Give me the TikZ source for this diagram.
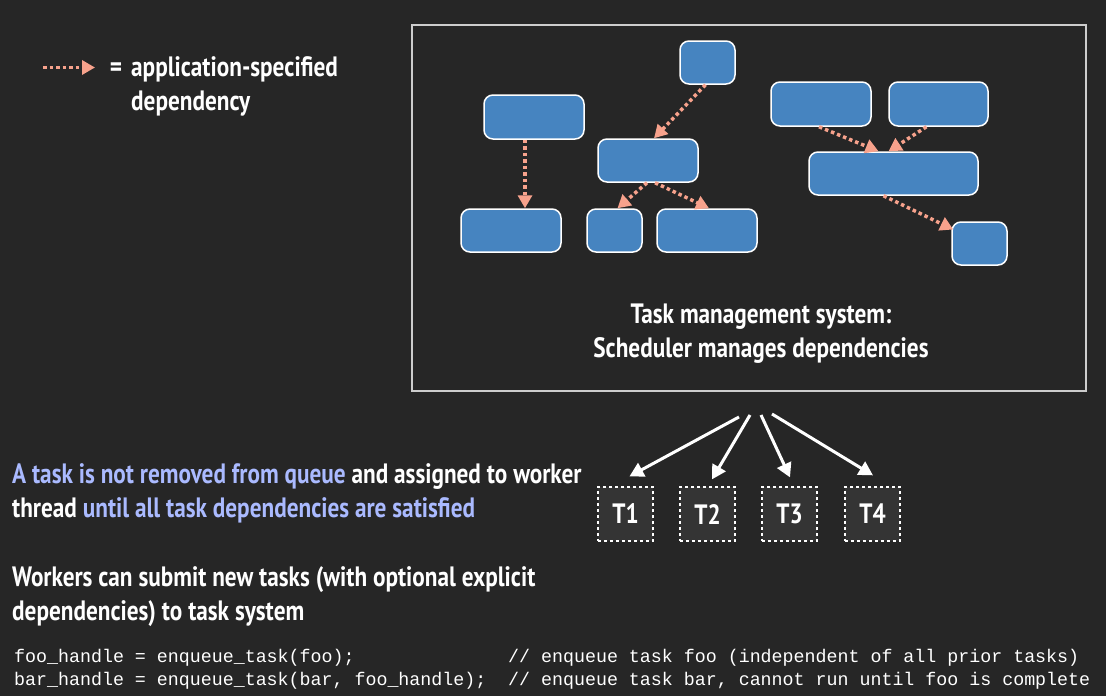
\documentclass[tikz,border=0pt]{standalone}
\usepackage{fontspec}
\setmainfont{PT Sans}[FakeStretch=0.83]
\setmonofont{Liberation Mono}
\usetikzlibrary{arrows.meta,calc}
\definecolor{bgc}{RGB}{38,38,38}
\definecolor{taskblue}{RGB}{70,132,192}
\definecolor{salmon}{RGB}{247,162,140}
\definecolor{lav}{RGB}{170,186,255}
\definecolor{tfill}{RGB}{52,52,52}
\definecolor{frame}{RGB}{205,205,205}
\tikzset{
  blk/.style={draw=white, fill=taskblue, rounded corners=9pt, line width=1.5pt, inner sep=0pt},
  dep/.style={draw=salmon, line width=3.5pt, dash pattern=on 3.5pt off 3pt, -{Triangle[length=13pt,width=14pt,fill=salmon]}},
  tbox/.style={draw=white, fill=tfill, dashed, line width=1.3pt, minimum width=55pt, minimum height=54pt, inner sep=0pt, text=white, font=\fontsize{28}{30}\selectfont\bfseries},
  wht/.style={draw=white, line width=3pt, -{Triangle[length=14pt,width=15pt]}},
  txt/.style={text=white, font=\fontsize{28}{34}\selectfont\bfseries, inner sep=0pt},
  code/.style={text=white, font=\fontsize{18.3}{23}\selectfont\ttfamily, inner sep=0pt, anchor=west}
}
\begin{document}
\begin{tikzpicture}[x=1pt,y=-1pt]
\fill[bgc] (0,0) rectangle (1106,696);
\useasboundingbox (0,0) rectangle (1106,696);
% main frame
\node[draw=frame, line width=1.5pt, minimum width=674pt, minimum height=366pt, inner sep=0pt] (sys) at (749,208) {};
% blue task boxes
\node[blk, minimum width=55pt, minimum height=43pt] (b1) at (707.5,62.5) {};
\node[blk, minimum width=100pt, minimum height=44pt] (b2) at (534,117) {};
\node[blk, minimum width=100pt, minimum height=43pt] (b3) at (648,160.5) {};
\node[blk, minimum width=100pt, minimum height=43pt] (b4) at (511,230.5) {};
\node[blk, minimum width=55pt, minimum height=43pt] (b5) at (614.5,230.5) {};
\node[blk, minimum width=100pt, minimum height=43pt] (b6) at (707,230.5) {};
\node[blk, minimum width=100pt, minimum height=44pt] (b7) at (821,104) {};
\node[blk, minimum width=99pt, minimum height=44pt] (b8) at (938.5,104) {};
\node[blk, minimum width=169pt, minimum height=43pt] (b9) at (893.5,173.5) {};
\node[blk, minimum width=55pt, minimum height=43pt] (b10) at (979.5,243.5) {};
% dependencies
\draw[dep] ([xshift=-2pt]b1.south) -- ([xshift=6pt]b3.north);
\draw[dep] ([xshift=-9pt]b2.south) -- ([xshift=14pt]b4.north);
\draw[dep] ([xshift=-1pt]b3.south) -- ([xshift=3pt]b5.north);
\draw[dep] ([xshift=7pt]b3.south) -- ([xshift=2pt]b6.north);
\draw[dep] ([xshift=-2pt]b7.south) -- ([xshift=-15pt]b9.north);
\draw[dep] ([xshift=-12pt]b8.south) -- ([xshift=-5pt]b9.north);
\draw[dep] ([xshift=-10pt]b9.south) -- ([xshift=2pt,yshift=14pt]b10.west);
% title in frame
\node[txt, align=center] (title) at (761,334) {Task management system:\\Scheduler manages dependencies};
% legend
\coordinate (legA) at (43,67.5);
\coordinate (legB) at (95,67.5);
\draw[dep] (legA) -- (legB);
\node[txt, anchor=west] (leg1) at (131,69) {\llap{=\hspace{9pt}}application-specified};
\node[txt, anchor=west] (leg2) at (131,104) {dependency};
% workers
\node[tbox] (T1) at (625.5,514) {T1};
\node[tbox] (T2) at (707.5,514) {T2};
\node[tbox] (T3) at (789.5,514) {T3};
\node[tbox] (T4) at (872.5,514) {T4};
\coordinate (s1) at (739,417);
\coordinate (s2) at (750,415);
\coordinate (s3) at (761,415);
\coordinate (s4) at (772,414);
\draw[wht] (s1) -- ([xshift=4pt,yshift=10pt]T1.north);
\draw[wht] (s2) -- ([xshift=4.5pt,yshift=7pt]T2.north);
\draw[wht] (s3) -- ([xshift=0.5pt,yshift=9pt]T3.north);
\draw[wht] (s4) -- ([xshift=0.5pt,yshift=11pt]T4.north);
% left texts
\node[txt, anchor=west, align=left] (t1) at (12,493) {\textcolor{lav}{A task is not removed from queue} and assigned to worker\\thread \textcolor{lav}{until all task dependencies are satisfied}};
\node[txt, anchor=west, align=left] (t2) at (12,597) {Workers can submit new tasks (with optional explicit\\dependencies) to task system};
% code
\node[code] (c1) at (14,658) {foo\_handle = enqueue\_task(foo);};
\node[code] (c2) at (14,681) {bar\_handle = enqueue\_task(bar, foo\_handle);};
\node[code] (m1) at (508,658) {// enqueue task foo (independent of all prior tasks)};
\node[code] (m2) at (508,681) {// enqueue task bar, cannot run until foo is complete};
\end{tikzpicture}
\end{document}
